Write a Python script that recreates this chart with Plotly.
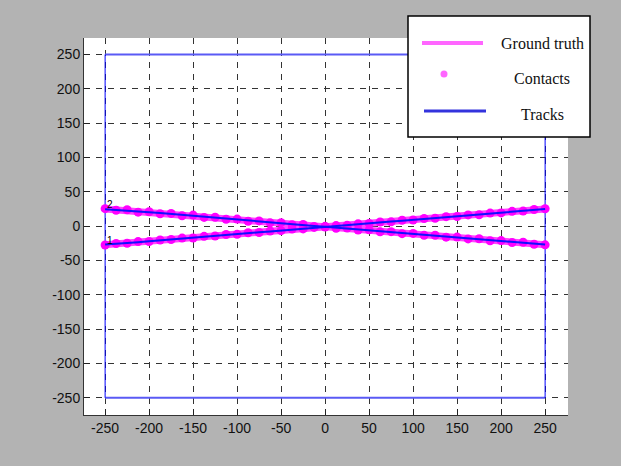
import plotly.graph_objects as go

# ---- data ----
x_pts = [-250 + 12.5 * i for i in range(41)]

gt_x = [-250, 250]
gt_a_y = [25, -27]
gt_b_y = [-27, 25]

contacts_a_y = [25.5, 23.1, 23.9, 20.4, 21.0, 18.0, 18.6, 15.2, 16.1, 12.7, 13.0, 10.1, 10.3, 7.2,
                7.6, 4.8, 5.1, 2.2, 2.4, -0.5, -0.3, -3.0, -2.8, -5.6, -5.4, -8.3, -8.0, -10.9,
                -10.6, -13.4, -13.2, -16.0, -15.9, -18.6, -18.4, -21.2, -21.0, -23.8, -23.5, -26.3, -27.2]
contacts_b_y = [-27.4, -25.2, -24.9, -22.5, -22.3, -20.1, -19.5, -17.4, -17.2, -14.8, -14.4, -12.1,
                -11.9, -9.6, -9.2, -7.0, -6.6, -4.3, -4.0, -1.8, -1.3, 0.8, 1.2, 3.4, 3.8, 6.0, 6.3,
                8.6, 9.0, 11.2, 11.5, 13.8, 14.1, 16.4, 16.6, 19.0, 19.3, 21.6, 21.9, 24.2, 25.3]

track_a_y = [24.8, 23.9, 22.9, 21.4, 20.2, 19.0, 17.6, 16.3, 15.0, 13.6, 12.4, 11.0, 9.6, 8.4, 7.0,
             5.8, 4.4, 3.1, 1.8, 0.4, -0.8, -2.1, -3.5, -4.8, -6.0, -7.4, -8.7, -10.0, -11.3,
             -12.6, -13.9, -15.2, -16.5, -17.8, -19.1, -20.4, -21.7, -23.0, -24.3, -25.6, -26.8]
track_b_y = [-26.8, -25.9, -24.6, -23.4, -22.0, -20.8, -19.4, -18.2, -16.8, -15.5, -14.3, -12.9,
             -11.6, -10.3, -9.0, -7.6, -6.4, -5.0, -3.7, -2.5, -1.1, 0.2, 1.5, 2.8, 4.1, 5.4, 6.7,
             8.0, 9.3, 10.6, 11.9, 13.2, 14.5, 15.8, 17.1, 18.4, 19.7, 21.0, 22.3, 23.6, 24.9]

region_h_x = [-250, 250, None, -250, 250]
region_h_y = [250, 250, None, -250, -250]
region_v_x = [-250, -250, None, 250, 250]
region_v_y = [-250, 250, None, -250, 250]

track_labels = ["2", "1"]
track_label_x = [-245, -245]
track_label_y = [32, -21]

tick_vals = list(range(-250, 251, 50))
tick_text = [str(v) for v in tick_vals]

# ---- figure ----
fig = go.Figure()

fig.add_trace(go.Scatter(x=region_h_x, y=region_h_y, mode="lines",
                         line=dict(color="#5a5af5", width=2), showlegend=False, hoverinfo="skip"))
fig.add_trace(go.Scatter(x=region_v_x, y=region_v_y, mode="lines",
                         line=dict(color="#0000ff", width=1), showlegend=False, hoverinfo="skip"))

for gy in (gt_a_y, gt_b_y):
    fig.add_trace(go.Scatter(x=gt_x, y=gy, mode="lines",
                             line=dict(color="#ff44ff", width=7), showlegend=False))
for cy in (contacts_a_y, contacts_b_y):
    fig.add_trace(go.Scatter(x=x_pts, y=cy, mode="markers",
                             marker=dict(color="#ff00ff", size=9, line=dict(width=0)),
                             showlegend=False))
for ty in (track_a_y, track_b_y):
    fig.add_trace(go.Scatter(x=x_pts, y=ty, mode="lines",
                             line=dict(color="#1010ff", width=2), showlegend=False))

for t, tx, ty in zip(track_labels, track_label_x, track_label_y):
    fig.add_annotation(x=tx, y=ty, text=t, showarrow=False,
                       font=dict(family="Liberation Sans", size=10, color="#000"))

axis_common = dict(
    tickvals=tick_vals, ticktext=tick_text, ticks="inside", ticklen=6, tickcolor="#222",
    showgrid=True, gridcolor="#333", griddash="6px,6px", gridwidth=1,
    showline=True, linecolor="#333", linewidth=1, zeroline=False,
    tickfont=dict(family="Liberation Sans", size=14, color="#111"),
)
fig.update_xaxes(range=[-274, 276], **axis_common)
fig.update_yaxes(range=[-275, 274], **axis_common)

# ---- manual legend (paper coords) ----
def px(x):
    return (x - 84) / 484

def py(y):
    return (415 - y) / 377

shapes = [
    dict(type="rect", xref="paper", yref="paper", x0=px(408), x1=px(590), y0=py(137), y1=py(16),
         fillcolor="white", line=dict(color="black", width=1.5), layer="above"),
    dict(type="line", xref="paper", yref="paper", x0=px(422), x1=px(483), y0=py(43), y1=py(43),
         line=dict(color="#ff66ff", width=4), layer="above"),
    dict(type="circle", xref="paper", yref="paper", x0=px(440.5), x1=px(447.5), y0=py(77.5), y1=py(70.5),
         fillcolor="#ff66ff", line=dict(color="#ff66ff", width=0), layer="above"),
    dict(type="line", xref="paper", yref="paper", x0=px(424), x1=px(486), y0=py(111), y1=py(111),
         line=dict(color="#3333dd", width=3), layer="above"),
]
fig.update_layout(shapes=shapes)

legend_texts = ["Ground truth", "Contacts", "Tracks"]
legend_text_y = [43, 78, 114]
for t, ly in zip(legend_texts, legend_text_y):
    fig.add_annotation(xref="paper", yref="paper", x=px(542), y=py(ly), text=t, showarrow=False,
                       xanchor="center", yanchor="middle",
                       font=dict(family="Liberation Serif", size=16, color="#111"))

fig.update_layout(
    width=621, height=466,
    margin=dict(l=84, r=53, t=38, b=51),
    paper_bgcolor="#b3b3b3", plot_bgcolor="white",
    showlegend=False,
)

fig.write_html("out.html", config={"displayModeBar": False},
               post_script="document.body.style.margin='0';document.body.style.background='#b3b3b3';")
